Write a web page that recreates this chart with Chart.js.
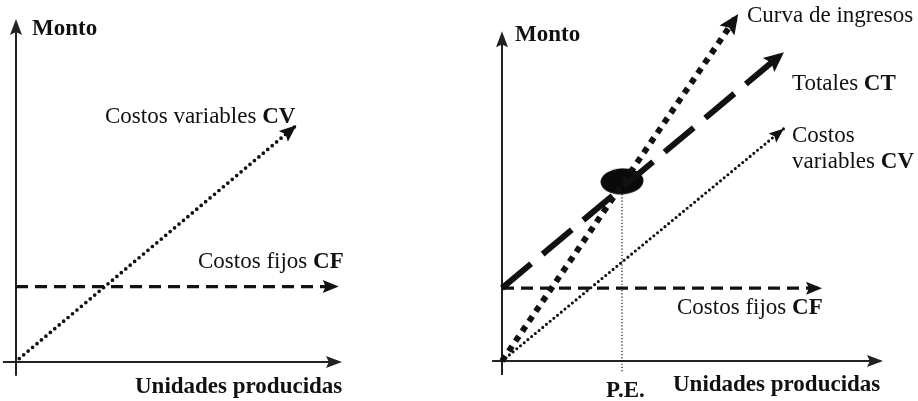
<!DOCTYPE html>
<html><head><meta charset="utf-8">
<script src="https://cdn.jsdelivr.net/npm/chart.js@4/dist/chart.umd.min.js"></script>
<style>
html,body{margin:0;padding:0;background:#fff;width:918px;height:401px;overflow:hidden;}
canvas{position:absolute;top:0;}
#c1{left:0;} #c2{left:470px;}
</style></head><body>
<canvas id="c1" width="470" height="401"></canvas>
<canvas id="c2" width="448" height="401"></canvas>
<script>
// ---- data (arbitrary units: x = units produced, y = amount) ----
const leftFixedCost    = [{x:0,y:22},{x:99,y:22}];
const leftVariableCost = [{x:1,y:1},{x:86,y:69}];

const rightFixedCost    = [{x:0,y:21},{x:84,y:21}];
const rightTotalCost    = [{x:0,y:21},{x:74,y:89}];
const rightRevenue      = [{x:0,y:0},{x:62,y:100}];
const rightVariableCost = [{x:0,y:0},{x:74,y:67}];
const breakEvenPoint    = [{x:31.5,y:51.8}];
const breakEvenDrop     = [{x:31.5,y:51.8},{x:31.5,y:-3.5}];

const INK = '#111111';
const SERIF = '"Liberation Serif","Times New Roman",serif';

function drawArrowHead(ctx, x1, y1, x2, y2, len, w, color){
  const ang = Math.atan2(y2 - y1, x2 - x1);
  ctx.save();
  ctx.translate(x2, y2); ctx.rotate(ang);
  ctx.fillStyle = color;
  ctx.beginPath();
  ctx.moveTo(0, 0);
  ctx.lineTo(-len, -w/2);
  ctx.lineTo(-len*0.82, 0);
  ctx.lineTo(-len, w/2);
  ctx.closePath();
  ctx.fill();
  ctx.restore();
}

const arrowPlugin = {
  id: 'arrowHeads',
  afterDatasetsDraw(chart){
    const ctx = chart.ctx;
    chart.data.datasets.forEach((ds, i) => {
      if (!ds.arrow) return;
      const pts = chart.getDatasetMeta(i).data;
      const a = pts[pts.length-2], b = pts[pts.length-1];
      drawArrowHead(ctx, a.x, a.y, b.x, b.y, ds.arrow[0], ds.arrow[1], ds.borderColor);
    });
  }
};

const axesPlugin = {
  id: 'axesArrows',
  beforeDatasetsDraw(chart, args, o){
    const xs = chart.scales.x, ys = chart.scales.y, ctx = chart.ctx;
    const x0 = xs.getPixelForValue(0), y0 = ys.getPixelForValue(0);
    const xa = xs.getPixelForValue(o.xFrom), xb = xs.getPixelForValue(o.xTo);
    const ya = ys.getPixelForValue(o.yFrom), yb = ys.getPixelForValue(o.yTo);
    ctx.save();
    ctx.strokeStyle = o.color; ctx.lineWidth = o.width;
    ctx.beginPath();
    ctx.moveTo(xa, y0); ctx.lineTo(xb - 8, y0);
    ctx.moveTo(x0, ya); ctx.lineTo(x0, yb + 8);
    ctx.stroke();
    ctx.restore();
    drawArrowHead(ctx, xa, y0, xb, y0, 16, 12, o.color);
    drawArrowHead(ctx, x0, ya, x0, yb, 16, 12, o.color);
  }
};

const labelPlugin = {
  id: 'richLabels',
  afterDraw(chart, args, o){
    const ctx = chart.ctx;
    ctx.save();
    ctx.fillStyle = INK;
    ctx.textBaseline = 'alphabetic';
    (o.items || []).forEach(it => {
      let x = it.x;
      it.parts.forEach(([txt, bold]) => {
        ctx.font = (bold ? 'bold ' : '') + o.size + 'px ' + SERIF;
        ctx.fillText(txt, x, it.y);
        x += ctx.measureText(txt).width;
      });
    });
    ctx.restore();
  }
};

function ellipseImage(w, h){
  const c = document.createElement('canvas');
  c.width = w; c.height = h;
  const g = c.getContext('2d');
  g.fillStyle = '#0a0a0a';
  g.beginPath();
  g.ellipse(w/2, h/2, w/2 - 0.5, h/2 - 0.5, -0.05, 0, Math.PI*2);
  g.fill();
  return c;
}

function baseOptions(padding, axes, labels){
  return {
    responsive: false,
    animation: false,
    devicePixelRatio: 1,
    layout: { padding },
    scales: {
      x: { type: 'linear', min: 0, max: 100, display: false },
      y: { type: 'linear', min: 0, max: 100, display: false }
    },
    plugins: {
      legend: { display: false },
      tooltip: { enabled: false },
      axesArrows: axes,
      richLabels: labels
    },
    elements: { point: { radius: 0, hoverRadius: 0 } }
  };
}

function lineDs(data, width, dash, cap, arrow){
  return {
    data, showLine: true, borderColor: INK, backgroundColor: INK,
    borderWidth: width, borderDash: dash, borderCapStyle: cap,
    pointRadius: 0, clip: false, arrow
  };
}

// ---- left chart ----
new Chart(document.getElementById('c1'), {
  type: 'scatter',
  data: { datasets: [
    lineDs(leftFixedCost, 3.2, [12, 7], 'butt', [16, 13]),
    lineDs(leftVariableCost, 3.7, [0, 5.8], 'round', [17, 14])
  ]},
  options: baseOptions(
    { left: 16, right: 128, top: 19, bottom: 39 },
    { xFrom: -4, xTo: 100, yFrom: -4, yTo: 100, color: '#222', width: 2 },
    { size: 23, items: [
      { x: 32, y: 35, parts: [['Monto', true]] },
      { x: 105, y: 123, parts: [['Costos variables ', false], ['CV', true]] },
      { x: 198, y: 268, parts: [['Costos fijos ', false], ['CF', true]] },
      { x: 135, y: 393, parts: [['Unidades producidas', true]] }
    ]}
  ),
  plugins: [axesPlugin, arrowPlugin, labelPlugin]
});

// ---- right chart ----
const peDot = ellipseImage(44, 27);
new Chart(document.getElementById('c2'), {
  type: 'scatter',
  data: { datasets: [
    lineDs(breakEvenDrop, 1.2, [1.2, 2], 'butt', null),
    lineDs(rightFixedCost, 3.2, [12, 7], 'butt', [16, 13]),
    lineDs(rightVariableCost, 3.1, [0, 4.8], 'round', [15, 12]),
    lineDs(rightTotalCost, 6, [38, 15], 'butt', [20, 18]),
    lineDs(rightRevenue, 6, [6, 6], 'butt', [20, 18]),
    { data: breakEvenPoint, showLine: false, pointStyle: peDot, pointRadius: 13, clip: false }
  ]},
  options: baseOptions(
    { left: 32, right: 35, top: 8, bottom: 40 },
    { xFrom: -2.6, xTo: 100, yFrom: -4, yTo: 95, color: '#222', width: 2 },
    { size: 23, items: [
      { x: 45, y: 41, parts: [['Monto', true]] },
      { x: 277, y: 22, parts: [['Curva de ingresos', false]] },
      { x: 322, y: 90, parts: [['Totales ', false], ['CT', true]] },
      { x: 322, y: 142, parts: [['Costos', false]] },
      { x: 322, y: 168, parts: [['variables ', false], ['CV', true]] },
      { x: 207, y: 314, parts: [['Costos fijos ', false], ['CF', true]] },
      { x: 203, y: 391, parts: [['Unidades producidas', true]] },
      { x: 136, y: 397, parts: [['P.E.', true]] }
    ]}
  ),
  plugins: [axesPlugin, arrowPlugin, labelPlugin]
});
</script>
</body></html>
